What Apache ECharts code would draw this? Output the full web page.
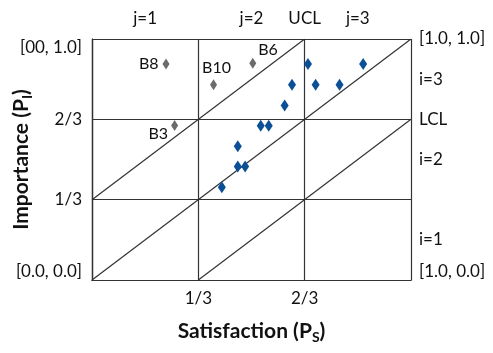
<!DOCTYPE html>
<html><head><meta charset="utf-8">
<script src="https://cdn.jsdelivr.net/npm/echarts@6/dist/echarts.min.js"></script>
<style>html,body{margin:0;padding:0;background:#fff}#c{width:493px;height:353px}</style>
</head><body><div id="c"></div>
<script>
// Data (Satisfaction P_S, Importance P_I)
const blueS = [0.677, 0.850, 0.627, 0.701, 0.776, 0.604, 0.529, 0.554, 0.457, 0.457, 0.480, 0.407];
const blueI = [0.896, 0.896, 0.810, 0.810, 0.810, 0.724, 0.640, 0.640, 0.555, 0.471, 0.471, 0.385];
const greyNames = ['B8', 'B10', 'B6', 'B3'];
const greyS = [0.232, 0.381, 0.504, 0.259];
const greyI = [0.896, 0.810, 0.899, 0.641];
// Diagonal control lines: start/end points
const diagS = [[0, 2/3], [0, 1], [1/3, 1]];
const diagI = [[1/3, 1], [0, 1], [0, 2/3]];
// Tick labels
const bottomLabels = {1: '1/3', 2: '2/3'};
const leftLabels = {0: '[0.0, 0.0]', 1: '1/3', 2: '2/3', 3: '[00, 1.0]'};
const topLabels = {1: 'j=1', 3: 'j=2', 4: 'UCL', 5: 'j=3'};
const rightLabels = {0: '[1.0, 0.0]', 1: 'i=1', 3: 'i=2', 4: 'LCL', 5: 'i=3', 6: '[1.0, 1.0]'};

const FONT = 'Lato';
const TXT = '#111';
const LINE = '#333';
const TICK_FS = 17;
const chart = echarts.init(document.getElementById('c'));

const greyLabelCfg = [
  {position: 'left', distance: 4, offset: [0, 0]},
  {position: 'top', distance: 3, offset: [3, 0]},
  {position: 'right', distance: 2, offset: [0, -13]},
  {position: 'left', distance: 3, offset: [0, 8]}
];

const series = [];
diagS.forEach((s, k) => {
  series.push({
    type: 'line', silent: true, symbol: 'none', xAxisIndex: 0, yAxisIndex: 0,
    lineStyle: {color: LINE, width: 1.2},
    data: [[s[0], diagI[k][0]], [s[1], diagI[k][1]]],
    z: 1
  });
});
series.push({
  type: 'scatter', symbol: 'diamond', symbolSize: [8, 12],
  itemStyle: {color: '#0b4f96', opacity: 1},
  data: blueS.map((s, k) => [s, blueI[k]]), z: 3
});
series.push({
  type: 'scatter', symbol: 'diamond', symbolSize: [7, 11],
  itemStyle: {color: '#6b6b6b', opacity: 1},
  label: {show: true, color: TXT, fontSize: 16, fontFamily: FONT},
  data: greyS.map((s, k) => ({
    value: [s, greyI[k]], name: greyNames[k],
    label: Object.assign({show: true, formatter: greyNames[k], color: TXT, fontSize: 16, fontFamily: FONT}, greyLabelCfg[k])
  })), z: 3
});

const frame = {show: true, lineStyle: {color: LINE, width: 1.2}};
const nameStyle = {fontSize: 21, fontWeight: 'bold', fontFamily: FONT, color: TXT,
  rich: {sub: {fontSize: 14, fontWeight: 'bold', fontFamily: FONT, color: TXT, verticalAlign: 'bottom', padding: [12, 0, 0, 0]}}};
chart.setOption({
  animation: false,
  grid: {left: 92, right: 82, top: 39, bottom: 73, containLabel: false, outerBoundsMode: 'none'},
  xAxis: [
    {type: 'value', min: 0, max: 1, interval: 1/3, position: 'bottom',
     axisLine: frame, axisTick: {show: false},
     splitLine: {show: true, lineStyle: {color: LINE, width: 1.2}},
     axisLabel: {margin: 10, fontSize: TICK_FS, fontFamily: FONT, color: TXT,
       formatter: v => bottomLabels[Math.round(v * 3)] || ''},
     name: 'Satisfaction (P{sub|S})', nameLocation: 'middle', nameGap: 38, nameMoveOverlap: false,
     nameTextStyle: nameStyle},
    {type: 'value', min: 0, max: 1, interval: 1/6, position: 'top',
     axisLine: frame, axisTick: {show: false}, splitLine: {show: false},
     axisLabel: {margin: 12, fontSize: TICK_FS, fontFamily: FONT, color: TXT,
       formatter: v => topLabels[Math.round(v * 6)] || ''}}
  ],
  yAxis: [
    {type: 'value', min: 0, max: 1, interval: 1/3, position: 'left',
     axisLine: frame, axisTick: {show: false},
     splitLine: {show: true, lineStyle: {color: LINE, width: 1.2}},
     axisLabel: {margin: 10, fontSize: TICK_FS, fontFamily: FONT, color: TXT,
       verticalAlignMinLabel: 'bottom', verticalAlignMaxLabel: 'top',
       formatter: v => leftLabels[Math.round(v * 3)] || ''},
     name: 'Importance (P{sub|I})', nameLocation: 'middle', nameGap: 58, nameRotate: 90, nameMoveOverlap: false,
     nameTextStyle: nameStyle},
    {type: 'value', min: 0, max: 1, interval: 1/6, position: 'right',
     axisLine: frame, axisTick: {show: false}, splitLine: {show: false},
     axisLabel: {margin: 8, fontSize: TICK_FS, fontFamily: FONT, color: TXT,
       verticalAlignMinLabel: 'bottom', verticalAlignMaxLabel: 'top',
       formatter: v => rightLabels[Math.round(v * 6)] || ''}}
  ],
  series: series
});
</script></body></html>
